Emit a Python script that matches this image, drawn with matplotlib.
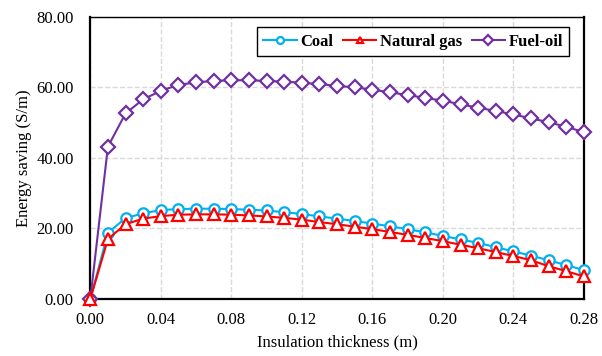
import numpy as np
import matplotlib.pyplot as plt

plt.rcParams['font.family'] = ['Liberation Serif', 'DejaVu Serif']

# insulation thickness (m)
thickness = [0.00, 0.01, 0.02, 0.03, 0.04, 0.05, 0.06, 0.07, 0.08, 0.09,
             0.10, 0.11, 0.12, 0.13, 0.14, 0.15, 0.16, 0.17, 0.18, 0.19,
             0.20, 0.21, 0.22, 0.23, 0.24, 0.25, 0.26, 0.27, 0.28]

coal = [0.0, 18.8, 22.9, 24.3, 25.2, 25.5, 25.6, 25.6, 25.5, 25.3,
        25.1, 24.6, 24.1, 23.4, 22.8, 22.1, 21.4, 20.6, 19.8, 18.9,
        17.9, 16.9, 15.9, 14.7, 13.5, 12.3, 11.0, 9.6, 8.2]

natural_gas = [0.0, 17.0, 21.2, 22.8, 23.5, 23.9, 24.0, 24.0, 23.9, 23.7,
               23.4, 23.0, 22.5, 21.8, 21.2, 20.5, 19.8, 19.0, 18.2, 17.3,
               16.4, 15.4, 14.4, 13.3, 12.2, 11.0, 9.3, 7.9, 6.4]

fuel_oil = [0.0, 43.2, 52.6, 56.6, 59.0, 60.7, 61.4, 61.8, 62.0, 62.0,
            61.8, 61.6, 61.3, 60.9, 60.4, 60.0, 59.3, 58.6, 57.8, 57.0,
            56.2, 55.2, 54.2, 53.3, 52.3, 51.2, 50.1, 48.8, 47.3]

fig = plt.figure(figsize=(6.02, 3.56), dpi=100)
ax = fig.add_axes([0.150, 0.160, 0.820, 0.793])

ax.plot(thickness, coal, color='#00B0F0', lw=1.5, marker='o', ms=7.5,
        mfc='white', mew=1.6, label='Coal', clip_on=False, zorder=3)
ax.plot(thickness, natural_gas, color='#FF0000', lw=1.5, marker='^', ms=8,
        mfc='white', mew=1.6, label='Natural gas', clip_on=False, zorder=4)
ax.plot(thickness, fuel_oil, color='#7030A0', lw=1.5, marker='D', ms=7,
        mfc='white', mew=1.6, label='Fuel-oil', clip_on=False, zorder=3)

ax.set_xlim(0, 0.28)
ax.set_ylim(0, 80)
ax.set_xticks(np.arange(0, 0.281, 0.04))
ax.set_yticks(np.arange(0, 81, 20))
ax.xaxis.set_major_formatter(plt.FormatStrFormatter('%.2f'))
ax.yaxis.set_major_formatter(plt.FormatStrFormatter('%.2f'))
ax.tick_params(axis='x', length=0, labelsize=12, pad=9)
ax.tick_params(axis='y', length=0, labelsize=12, pad=12)

ax.grid(True, color='#D9D9D9', linestyle='--', lw=1)
ax.set_axisbelow(True)
for s in ['left', 'bottom', 'right']:
    ax.spines[s].set_linewidth(1.6)
    ax.spines[s].set_color('black')
ax.spines['top'].set_linewidth(1.0)

ax.set_xlabel('Insulation thickness (m)', fontsize=12, labelpad=5)
ax.set_ylabel('Energy saving (S/m)', fontsize=12, labelpad=3)

leg = ax.legend(loc='upper right', ncol=3, bbox_to_anchor=(0.9775, 0.975),
                prop={'weight': 'bold', 'size': 12}, fancybox=False,
                framealpha=1, edgecolor='black', handlelength=2.0,
                handletextpad=0.2, columnspacing=0.6, borderpad=0.4,
                borderaxespad=0.2)
leg.get_frame().set_linewidth(1.0)
for h in leg.legend_handles:
    h.set_markersize(5)

fig.savefig('out.png', dpi=100)
